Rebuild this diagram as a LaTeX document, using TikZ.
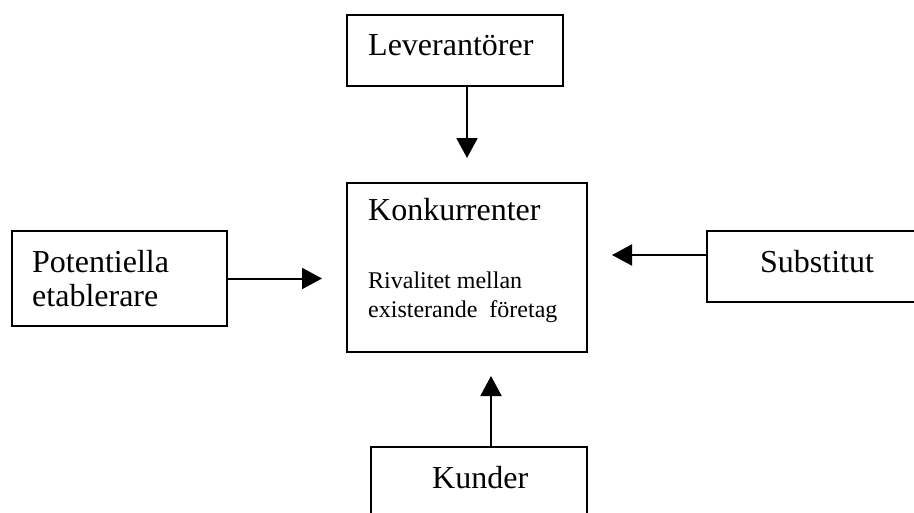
\documentclass[tikz,border=0pt]{standalone}
\usepackage{fontspec}
\setmainfont{Liberation Serif}
\usetikzlibrary{arrows.meta}

\begin{document}
\begin{tikzpicture}[x=1pt,y=-1pt,
  box/.style={draw=black,line width=2pt,rectangle,inner sep=0pt},
  big/.style={anchor=base west,inner sep=0pt,font=\fontsize{32}{36}\selectfont},
  small/.style={anchor=base west,inner sep=0pt,font=\fontsize{24}{28}\selectfont},
  arr/.style={line width=2pt,-{Triangle[length=20pt,width=21pt]}}]
  \useasboundingbox (0,0) rectangle (914,512);
  \clip (0,0) rectangle (914,512);

  % boxes (Substitut and Kunder run past the page edge)
  \node[box,minimum width=216pt,minimum height=71pt] (lev) at (455,50.5) {};
  \node[box,minimum width=240pt,minimum height=169pt] (kon) at (467,267.5) {};
  \node[box,minimum width=215pt,minimum height=95pt] (pot) at (119.5,278.5) {};
  \node[box,minimum width=213pt,minimum height=71pt] (sub) at (813.5,266.5) {};
  \node[box,minimum width=216pt,minimum height=80pt] (kun) at (479,487) {};

  % labels
  \node[big] (levt) at (368,55) {Leverantörer};
  \node[big] (kont) at (368,220) {Konkurrenter};
  \node[small] (kon1) at (368,288) {Rivalitet mellan};
  \node[small] (kon2) at (368,317) {existerande\ \ företag};
  \node[big] (pot1) at (32,272) {Potentiella};
  \node[big] (pot2) at (32,306) {etablerare};
  \node[big] (subt) at (760,272) {Substitut};
  \node[big] (kunt) at (432,488) {Kunder};

  % arrow tips, left short of the central box
  \coordinate (levtip) at (467,158);
  \coordinate (pottip) at (322,278.5);
  \coordinate (subtip) at (612,255);
  \coordinate (kuntip) at (491,376);

  % arrows
  \draw[arr] (lev.south -| levtip) -- (levtip);
  \draw[arr] (pot.east) -- (pottip);
  \draw[arr] (sub.west |- subtip) -- (subtip);
  \draw[arr] (kun.north -| kuntip) -- (kuntip);
\end{tikzpicture}
\end{document}
